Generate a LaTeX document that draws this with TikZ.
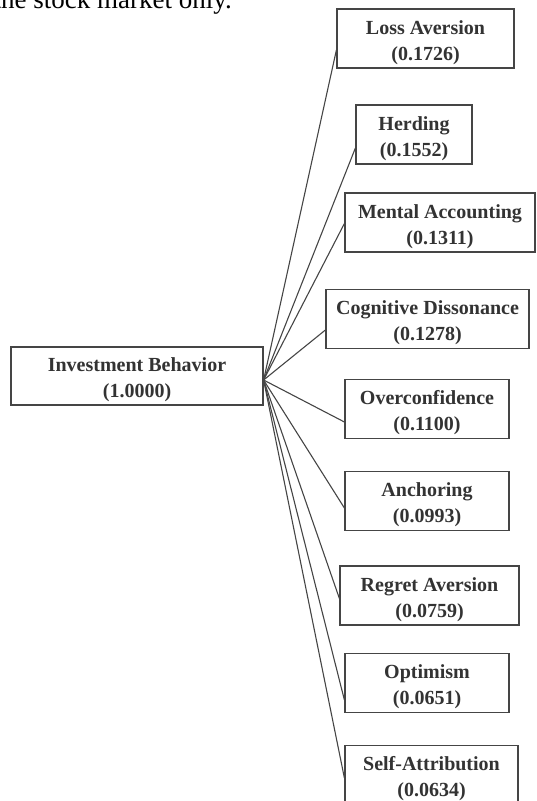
\documentclass[tikz,border=0pt]{standalone}
\usepackage{fontspec}
\setmainfont{Liberation Serif}
\usepackage{tikz}
\definecolor{boxgray}{rgb}{0.27, 0.27, 0.27}
\definecolor{textgray}{rgb}{0.2, 0.2, 0.2}

\begin{document}
\begin{tikzpicture}[x=1pt, y=-1pt,
    factor/.style={draw=boxgray, line width=1.2pt, fill=white, text=textgray,
      align=center, inner sep=0pt, minimum height=59pt,
      text height=49.5pt, text depth=6.5pt,
      font=\fontsize{20}{26}\selectfont\bfseries}]
  \useasboundingbox (0,0) rectangle (536,801);

  % cut-off line of the running text above the figure
  \node[anchor=base east, inner sep=0pt, text=black,
    font=\fontsize{27}{30}\selectfont] (txt) at (232,8) {the stock market only.};

  % root
  \node[factor, minimum width=252pt, minimum height=58pt] (ib) at (137,376)
    {Investment Behavior\\(1.0000)};
  \coordinate (hub) at ([yshift=-4pt]ib.east);

  % the nine factors
  \node[factor, minimum width=177pt] (la) at (425.5,38.5) {Loss Aversion\\(0.1726)};
  \node[factor, minimum width=116pt] (h)  at (414,134.5)  {Herding\\(0.1552)};
  \node[factor, minimum width=190pt] (ma) at (440,222.5)  {Mental Accounting\\(0.1311)};
  \node[factor, minimum width=203pt] (cd) at (427.5,319)  {Cognitive Dissonance\\(0.1278)};
  \node[factor, minimum width=164pt] (oc) at (427,409)    {Overconfidence\\(0.1100)};
  \node[factor, minimum width=164pt] (an) at (427,501)    {Anchoring\\(0.0993)};
  \node[factor, minimum width=179pt] (ra) at (429.5,595.5) {Regret Aversion\\(0.0759)};
  \node[factor, minimum width=164pt] (op) at (427,683)    {Optimism\\(0.0651)};
  \node[factor, minimum width=173pt] (sa) at (431.5,775)  {Self-Attribution\\(0.0634)};

  % loops over the connectors
  \foreach \n/\d in {la/11.5, h/13.5, ma/1, cd/11, oc/13, an/7, ra/3, op/17, sa/3}{
    \draw[boxgray, line width=1.1pt] (hub) -- ([yshift=-\d pt]\n.west);
  }
\end{tikzpicture}
\end{document}
